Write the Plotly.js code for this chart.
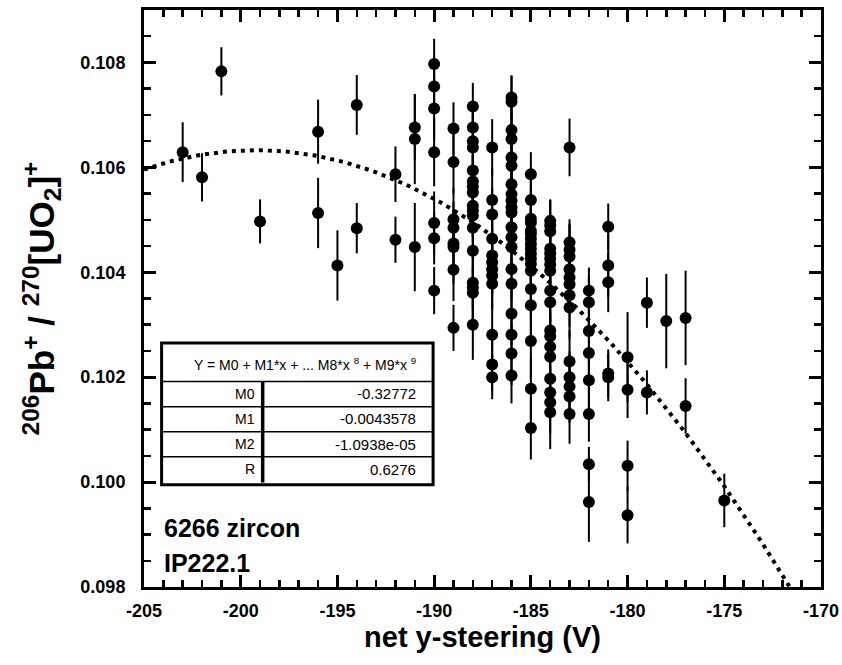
<!DOCTYPE html>
<html>
<head>
<meta charset="utf-8">
<script src="https://cdn.plot.ly/plotly-3.0.1.min.js"></script>
<style>html,body{margin:0;padding:0;background:#fff;}#chart{width:842px;height:665px;}</style>
</head>
<body>
<div id="chart"></div>
<script>
// ---- data ----
// net y-steering (V)
const steering = [
  -203, -202, -201, -199, -196, -196, -195, -194, -194, -192, -192,
  -191, -191, -191,
  -190, -190, -190, -190, -190, -190, -190,
  -189, -189, -189, -189, -189, -189, -189, -189,
  -188, -188, -188, -188, -188, -188, -188, -188, -188, -188, -188, -188, -188, -188, -188, -188, -188,
  -187, -187, -187, -187, -187, -187, -187, -187, -187, -187, -187, -187,
  -186, -186, -186, -186, -186, -186, -186, -186, -186, -186, -186, -186, -186, -186, -186, -186, -186, -186, -186, -186,
  -185, -185, -185, -185, -185, -185, -185, -185, -185, -185, -185, -185, -185, -185, -185, -185, -185, -185,
  -184, -184, -184, -184, -184, -184, -184, -184, -184, -184, -184, -184, -184, -184, -184, -184, -184, -184,
  -183, -183, -183, -183, -183, -183, -183, -183, -183, -183, -183, -183, -183, -183,
  -182, -182, -182, -182, -182, -182, -182, -182,
  -181, -181, -181, -181, -181,
  -180, -180, -180, -180,
  -179, -179, -178, -177, -177, -175
];
// 206Pb+/270[UO2]+ ratio
const ratio = [
  0.10629, 0.10581, 0.10783, 0.10497, 0.10668, 0.10513, 0.10413, 0.10719, 0.10484, 0.10587, 0.10462,
  0.10676, 0.10654, 0.10448,
  0.10797, 0.10754, 0.10712, 0.10629, 0.10494, 0.10465, 0.10365,
  0.10674, 0.10610, 0.10501, 0.10485, 0.10455, 0.10448, 0.10405, 0.10294,
  0.10716, 0.10676, 0.10650, 0.10638, 0.10594, 0.10573, 0.10563, 0.10552, 0.10527, 0.10518, 0.10508, 0.10485, 0.10441, 0.10380, 0.10371, 0.10361, 0.10300,
  0.10638, 0.10538, 0.10510, 0.10464, 0.10432, 0.10419, 0.10406, 0.10394, 0.10378, 0.10281, 0.10224, 0.10200,
  0.10733, 0.10725, 0.10671, 0.10654, 0.10619, 0.10603, 0.10568, 0.10549, 0.10537, 0.10524, 0.10514, 0.10486, 0.10467, 0.10448, 0.10406, 0.10378, 0.10321, 0.10281, 0.10245, 0.10203,
  0.10587, 0.10538, 0.10502, 0.10495, 0.10479, 0.10473, 0.10464, 0.10454, 0.10445, 0.10435, 0.10426, 0.10416, 0.10403, 0.10368, 0.10337, 0.10269, 0.10178, 0.10103,
  0.10498, 0.10489, 0.10478, 0.10445, 0.10436, 0.10426, 0.10415, 0.10403, 0.10365, 0.10343, 0.10289, 0.10278, 0.10258, 0.10239, 0.10197, 0.10171, 0.10152, 0.10133,
  0.10638, 0.10457, 0.10443, 0.10430, 0.10406, 0.10390, 0.10377, 0.10356, 0.10333, 0.10230, 0.10200, 0.10182, 0.10163, 0.10130,
  0.10365, 0.10343, 0.10288, 0.10246, 0.10194, 0.10130, 0.10034, 0.09962,
  0.10487, 0.10413, 0.10381, 0.10207, 0.10200,
  0.10238, 0.10176, 0.10031, 0.09937,
  0.10342, 0.10171, 0.10307, 0.10313, 0.10145, 0.09965
];
// one-sigma uncertainty of each ratio
const ratioErr = [
  0.00057, 0.00046, 0.00046, 0.00042, 0.00061, 0.00067, 0.00067, 0.00057, 0.00048, 0.00053, 0.00044,
  0.00063, 0.00086, 0.00084,
  0.00048, 0.00050, 0.00060, 0.00065, 0.00060, 0.00050, 0.00045,
  0.00050, 0.00060, 0.00060, 0.00050, 0.00050, 0.00070, 0.00060, 0.00044,
  0.00045, 0.00050, 0.00060, 0.00060, 0.00060, 0.00050, 0.00060, 0.00050, 0.00060, 0.00050, 0.00050, 0.00060, 0.00060, 0.00050, 0.00060, 0.00050, 0.00067,
  0.00054, 0.00060, 0.00050, 0.00060, 0.00050, 0.00060, 0.00050, 0.00060, 0.00050, 0.00060, 0.00050, 0.00042,
  0.00042, 0.00050, 0.00060, 0.00050, 0.00060, 0.00050, 0.00060, 0.00050, 0.00060, 0.00050, 0.00060, 0.00050, 0.00060, 0.00050, 0.00060, 0.00050, 0.00060, 0.00050, 0.00060, 0.00053,
  0.00042, 0.00050, 0.00060, 0.00050, 0.00060, 0.00050, 0.00060, 0.00050, 0.00060, 0.00050, 0.00060, 0.00050, 0.00060, 0.00050, 0.00060, 0.00070, 0.00060, 0.00060,
  0.00038, 0.00050, 0.00060, 0.00050, 0.00060, 0.00050, 0.00060, 0.00050, 0.00060, 0.00050, 0.00060, 0.00050, 0.00060, 0.00050, 0.00060, 0.00050, 0.00060, 0.00070,
  0.00055, 0.00044, 0.00050, 0.00060, 0.00050, 0.00060, 0.00050, 0.00060, 0.00060, 0.00060, 0.00050, 0.00060, 0.00050, 0.00057,
  0.00044, 0.00050, 0.00060, 0.00060, 0.00060, 0.00053, 0.00033, 0.00076,
  0.00044, 0.00060, 0.00057, 0.00046, 0.00046,
  0.00086, 0.00054, 0.00048, 0.00054,
  0.00048, 0.00042, 0.00090, 0.00090, 0.00053, 0.00051
];
// fitted polynomial shown in the table (M0, M1, M2) and R
const fitNames = ['M0', 'M1', 'M2', 'R'];
const fitLabels = ['-0.32772', '-0.0043578', '-1.0938e-05', '0.6276'];
const fitCoef = [-0.32772, -0.0043578, -1.0938e-05];
const fitRange = [-205, -171.5];
const xTicks = [-205, -200, -195, -190, -185, -180, -175, -170];
const yTicks = [0.098, 0.100, 0.102, 0.104, 0.106, 0.108];

// ---- build fit line from the coefficients ----
const fitX = [], fitY = [];
for (let x = fitRange[0]; x <= fitRange[1] + 1e-9; x += 0.25) {
  fitX.push(x);
  fitY.push(fitCoef[0] + fitCoef[1] * x + fitCoef[2] * x * x);
}

const FONT = 'Liberation Sans, Arial, sans-serif';

const traces = [
  {
    x: fitX, y: fitY, type: 'scatter', mode: 'lines',
    line: {color: '#000', width: 4, dash: '4px,5px'},
    hoverinfo: 'skip'
  },
  {
    x: steering, y: ratio, type: 'scatter', mode: 'markers',
    marker: {color: '#000', size: 12, symbol: 'circle', line: {width: 0}},
    error_y: {type: 'data', array: ratioErr, visible: true, color: '#000', thickness: 2, width: 0},
    cliponaxis: true
  }
];

// table geometry (paper fractions)
const bx0 = 0.026, bx1 = 0.427, by0 = 0.177, by1 = 0.423;
const hdrLine = 0.356;
const rowLines = [0.3125, 0.2692, 0.2258];
const rowY = [0.3345, 0.2912, 0.2478, 0.2045];
const sepX = 0.1753;
const labX = 0.1669, valX = 0.405;

const shapes = [
  {type: 'rect', xref: 'paper', yref: 'paper', x0: bx0, x1: bx1, y0: by0, y1: by1,
   line: {color: '#000', width: 3}, fillcolor: '#fff', layer: 'above'},
  {type: 'line', xref: 'paper', yref: 'paper', x0: bx0, x1: bx1, y0: hdrLine, y1: hdrLine,
   line: {color: '#000', width: 1.5}, layer: 'above'},
  {type: 'line', xref: 'paper', yref: 'paper', x0: sepX, x1: sepX, y0: by0 + 0.004, y1: hdrLine,
   line: {color: '#000', width: 3.5}, layer: 'above'}
];
rowLines.forEach(function (yv) {
  shapes.push({type: 'line', xref: 'paper', yref: 'paper', x0: bx0, x1: bx1, y0: yv, y1: yv,
    line: {color: '#000', width: 1.5}, layer: 'above'});
});

const hdrFont = {family: FONT, size: 14, color: '#000'};
const labFont = {family: FONT, size: 14, color: '#000'};
const valFont = {family: FONT, size: 15, color: '#000'};
const annotations = [
  {xref: 'paper', yref: 'paper', x: valX, y: 0.387, xanchor: 'right', yanchor: 'middle', showarrow: false,
   text: 'Y = M0 + M1*x + ... M8*x <sup>8</sup> + M9*x <sup>9</sup>', font: hdrFont},
  {xref: 'paper', yref: 'paper', x: 0.0266, y: 0.1023, xanchor: 'left', yanchor: 'middle', showarrow: false,
   text: '6266 zircon', font: {family: FONT, size: 25, color: '#000', weight: 'bold'}},
  {xref: 'paper', yref: 'paper', x: 0.0266, y: 0.0416, xanchor: 'left', yanchor: 'middle', showarrow: false,
   text: 'IP222.1', font: {family: FONT, size: 25, color: '#000', weight: 'bold'}}
];
fitNames.forEach(function (n, i) {
  annotations.push({xref: 'paper', yref: 'paper', x: labX, y: rowY[i], xanchor: 'right', yanchor: 'middle',
    showarrow: false, text: n, font: labFont});
  annotations.push({xref: 'paper', yref: 'paper', x: valX, y: rowY[i], xanchor: 'right', yanchor: 'middle',
    showarrow: false, text: fitLabels[i], font: valFont});
});

const tickFont = {family: FONT, size: 18, color: '#000', weight: 'bold'};

const layout = {
  width: 842, height: 665,
  margin: {l: 144, r: 21, t: 10, b: 78, pad: 0},
  paper_bgcolor: '#fff', plot_bgcolor: '#fff',
  showlegend: false,
  xaxis: {
    range: [-205, -170], tickmode: 'array', tickvals: xTicks, ticktext: xTicks.map(String),
    showgrid: false, zeroline: false,
    showline: true, linecolor: '#000', linewidth: 3, mirror: 'allticks',
    ticks: 'inside', ticklen: 12, tickwidth: 3, tickcolor: '#000',
    minor: {dtick: 1, tick0: -205, ticks: 'inside', ticklen: 7, tickwidth: 2.5, tickcolor: '#000', showgrid: false},
    tickfont: tickFont, ticklabelstandoff: 5,
    title: {text: 'net y-steering (V)', font: {family: FONT, size: 29, color: '#000', weight: 'bold'}, standoff: 8}
  },
  yaxis: {
    range: [0.098, 0.109], tickmode: 'array', tickvals: yTicks, ticktext: yTicks.map(function (v) { return v.toFixed(3); }),
    showgrid: false, zeroline: false,
    showline: true, linecolor: '#000', linewidth: 3, mirror: 'allticks',
    ticks: 'inside', ticklen: 12, tickwidth: 3, tickcolor: '#000',
    minor: {dtick: 0.0005, tick0: 0.098, ticks: 'inside', ticklen: 7, tickwidth: 2.5, tickcolor: '#000', showgrid: false},
    tickfont: tickFont, ticklabelstandoff: 12,
    title: {text: '<sup>206</sup>Pb<sup>+</sup> / <sup>270</sup>[UO<sub>2</sub>]<sup>+</sup>',
            font: {family: FONT, size: 35, color: '#000', weight: 'bold'}, standoff: 16}
  },
  shapes: shapes,
  annotations: annotations
};

Plotly.newPlot('chart', traces, layout, {displayModeBar: false, staticPlot: true});
</script>
</body>
</html>
